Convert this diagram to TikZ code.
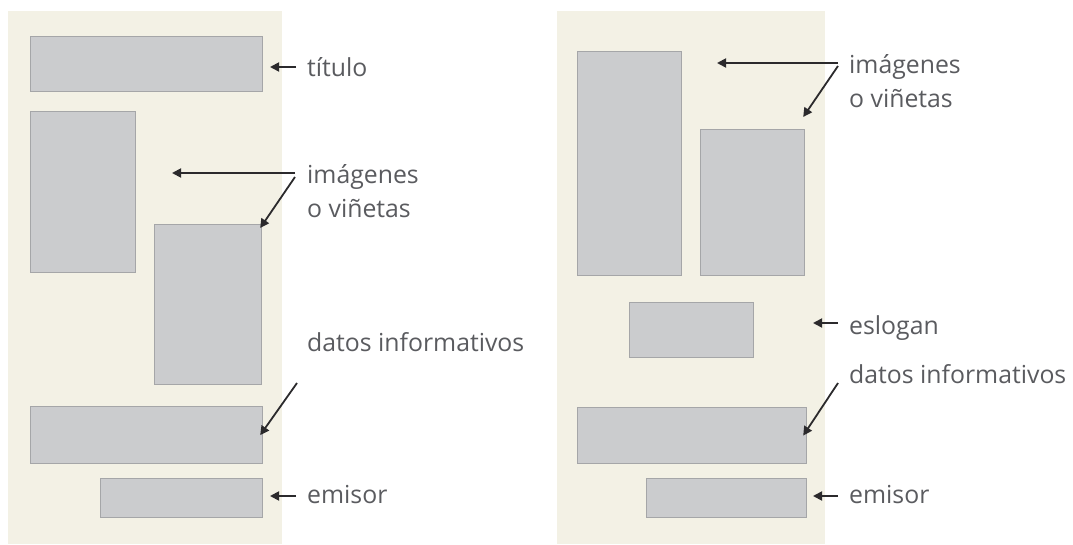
\documentclass[tikz,border=0pt]{standalone}
\usepackage{fontspec}
\setmainfont{Open Sans}
\definecolor{CremaFondo}{HTML}{F3F1E5}
\definecolor{GrisCaja}{HTML}{CBCCCE}
\definecolor{GrisBorde}{HTML}{A5A6A8}
\definecolor{GrisTexto}{HTML}{5A5B5F}
\definecolor{NegroFlecha}{HTML}{2B2A2C}
\usetikzlibrary{arrows.meta}
\usetikzlibrary{positioning}
\tikzset{
	cajon/.style={draw=GrisBorde, fill=GrisCaja, line width=1.2pt, inner sep=0pt, anchor=north west},
	etiqueta/.style={text=GrisTexto, inner sep=0pt, anchor=base west, align=left,
		font=\fontsize{24.8pt}{34pt}\selectfont},
	flecha/.style={draw=NegroFlecha, line width=1.8pt, arrows={-Stealth[length=9pt, width=9pt, inset=0pt]}}
}
\begin{document}
\begin{tikzpicture}[x=1pt, y=1pt]
    \useasboundingbox (0,0) rectangle (1073,544);
    % fondos de las dos hojas
    \fill[CremaFondo] (8,533) rectangle (282,0);
    \fill[CremaFondo] (557,533) rectangle (825,0);

    % cajas: nombre/x/y/ancho/alto
    \foreach \n/\x/\y/\w/\h in {bTit/30/508/232/55, imgA/30/433/105/161, imgB/154/320/107/160,
        datA/30/138/232/57, emiA/100/66/162/39,
        imgC/577/493/104/224, imgD/700/415/104/146, eslB/629/242/124/55,
        datB/577/137/229/56, emiB/646/66/160/39} {
        \node[cajon, minimum width=\w, minimum height=\h] (\n) at (\x,\y) {};
    }

    % etiquetas de la izquierda (base = ultima linea)
    \node[etiqueta] (lTit) at (307,467) {título};
    \node[etiqueta] (lImgA) at (307,326) {imágenes\\o viñetas};
    \node[etiqueta] (lDatA) at (307,193) {datos informativos};
    \node[etiqueta] (lEmiA) at (307,41) {emisor};

    % etiquetas de la derecha
    \node[etiqueta] (lImgB) at (849,436) {imágenes\\o viñetas};
    \node[etiqueta] (lEsl) at (849,209) {eslogan};
    \node[etiqueta] (lDatB) at (849,161) {datos informativos};
    \node[etiqueta] (lEmiB) at (849,41) {emisor};

    % flechas
    \draw[flecha] ([shift={(-11,10)}]lTit.base west) -- ++(-26,0);
    \draw[flecha] ([shift={(-12,45)}]lImgA.base west) -- ++(-123,0);
    \draw[flecha] ([shift={(-12,41)}]lImgA.base west) -- ([shift={(-2,-4)}]imgB.north east);
    \draw[flecha] ([shift={(-10,-32)}]lDatA.base west) -- ([xshift=-3]datA.east);
    \draw[flecha] ([shift={(-11,7)}]lEmiA.base west) -- ++(-26,0);

    \draw[flecha] ([shift={(-11,45)}]lImgB.base west) -- ++(-121,0);
    \draw[flecha] ([shift={(-11,42)}]lImgB.base west) -- ([shift={(-2,12)}]imgD.north east);
    \draw[flecha] ([shift={(-11,12)}]lEsl.base west) -- ++(-25,0);
    \draw[flecha] ([shift={(-11,0)}]lDatB.base west) -- ([xshift=-4]datB.east);
    \draw[flecha] ([shift={(-11,7)}]lEmiB.base west) -- ++(-25,0);
\end{tikzpicture}
\end{document}
